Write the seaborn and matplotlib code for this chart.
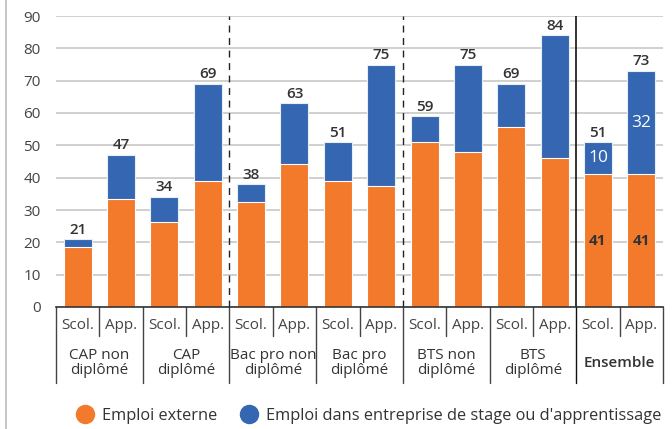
import pandas as pd
import seaborn as sns
import matplotlib.pyplot as plt
from matplotlib.lines import Line2D

# Data (share of employed, %)
groups = ["CAP non\ndiplômé", "CAP\ndiplômé", "Bac pro non\ndiplômé", "Bac pro\ndiplômé",
          "BTS non\ndiplômé", "BTS\ndiplômé", "Ensemble"]
statuts = ["Scol.", "App."]
externe = [18.7, 33.5, 26.2, 38.9, 32.6, 44.2, 39.1, 37.5, 51.1, 47.9, 55.8, 46.2, 41, 41]
total = [21, 47, 34, 69, 38, 63, 51, 75, 59, 75, 69, 84, 51, 73]
series = ["Emploi externe", "Emploi dans entreprise de stage ou d'apprentissage"]

orange = "#F37A2A"
blue = "#3466B2"

rows = []
for i, g in enumerate(groups):
    for j, s in enumerate(statuts):
        k = i * 2 + j
        rows.append({"bar": f"{g}|{s}", "groupe": g, "statut": s,
                     "externe": externe[k], "total": total[k],
                     "stage": total[k] - externe[k]})
df = pd.DataFrame(rows)

sns.set_theme(style="white")
plt.rcParams["font.family"] = ["Open Sans", "DejaVu Sans"]

fig = plt.figure(figsize=(6.72, 4.29), dpi=100)
ax = fig.add_axes([56 / 672, 1 - 307 / 429, 607 / 672, 291 / 429])

order = list(df["bar"])
sns.barplot(data=df, x="bar", y="total", order=order, color=blue, saturation=1,
            width=0.645, edgecolor="#E8EEF8", linewidth=0.8, ax=ax, zorder=2)
sns.barplot(data=df, x="bar", y="externe", order=order, color=orange, saturation=1,
            width=0.645, edgecolor="white", linewidth=0.8, ax=ax, zorder=3)

ax.set_xlim(-0.5, len(order) - 0.5)
ax.set_ylim(0, 90)
ax.set_yticks(range(0, 91, 10))
ax.tick_params(axis="y", length=0, pad=11, labelsize=11, labelcolor="#444444")
ax.set_xticks([])
ax.set_xlabel("")
ax.set_ylabel("")
ax.yaxis.grid(True, color="#C8C8C8", lw=1.2)
ax.set_axisbelow(True)
for sp in ["left", "right", "top"]:
    ax.spines[sp].set_visible(False)
ax.spines["bottom"].set_color("#333333")
ax.spines["bottom"].set_linewidth(1.2)
ax.spines["bottom"].set_zorder(5)

# totals above bars
for k, row in df.iterrows():
    ax.text(k, row["total"] + 0.8, f"{row['total']:.0f}", ha="center", va="bottom",
            fontsize=11, color="#333333", fontweight="semibold")

# segment labels for Ensemble
for k in [12, 13]:
    row = df.iloc[k]
    ax.text(k, row["externe"] / 2, f"{row['externe']:.0f}", ha="center", va="center",
            fontsize=11, color="#333333", fontweight="bold", zorder=6)
    ax.text(k, row["externe"] + row["stage"] / 2, f"{row['stage']:.0f}", ha="center",
            va="center", fontsize=12.5, color="white", zorder=6)

# group separators inside the plot
for xv in [3.5, 7.5]:
    ax.axvline(xv, color="#222222", lw=1, ls=(0, (5, 4)), zorder=4)
ax.axvline(11.5, color="#111111", lw=1.2, zorder=4)

# category labels below the axis
trans = ax.get_xaxis_transform()
for k, row in df.iterrows():
    ax.text(k, -0.062, row["statut"], transform=trans, ha="center", va="center",
            fontsize=11, color="#444444")
for i, g in enumerate(groups):
    ax.text(i * 2 + 0.5, -0.194, g, transform=trans, ha="center", va="center",
            fontsize=11, color="#333333", linespacing=1.0,
            fontweight="semibold" if g == "Ensemble" else "normal")
for i in range(len(groups)):
    ax.add_line(Line2D([i * 2 + 0.5] * 2, [0, -0.0997], transform=trans,
                       color="#444444", lw=1, clip_on=False))
for i in range(len(groups) + 1):
    c = "#111111" if i == 6 else "#444444"
    ax.add_line(Line2D([i * 2 - 0.5] * 2, [0, -0.261], transform=trans,
                       color=c, lw=1, clip_on=False))

# left frame line
fig.add_artist(Line2D([6 / 672] * 2, [0, 1], color="#BBBBBB", lw=1.2))

handles = [Line2D([], [], marker="o", ls="", markersize=13, color=orange),
           Line2D([], [], marker="o", ls="", markersize=13, color=blue)]
fig.legend(handles, series, loc="center", bbox_to_anchor=(0.543, 0.03), ncol=2,
           frameon=False, fontsize=11.8, handletextpad=0.05, columnspacing=0.9,
           labelcolor="#333333")

fig.savefig("out.png", dpi=100)
